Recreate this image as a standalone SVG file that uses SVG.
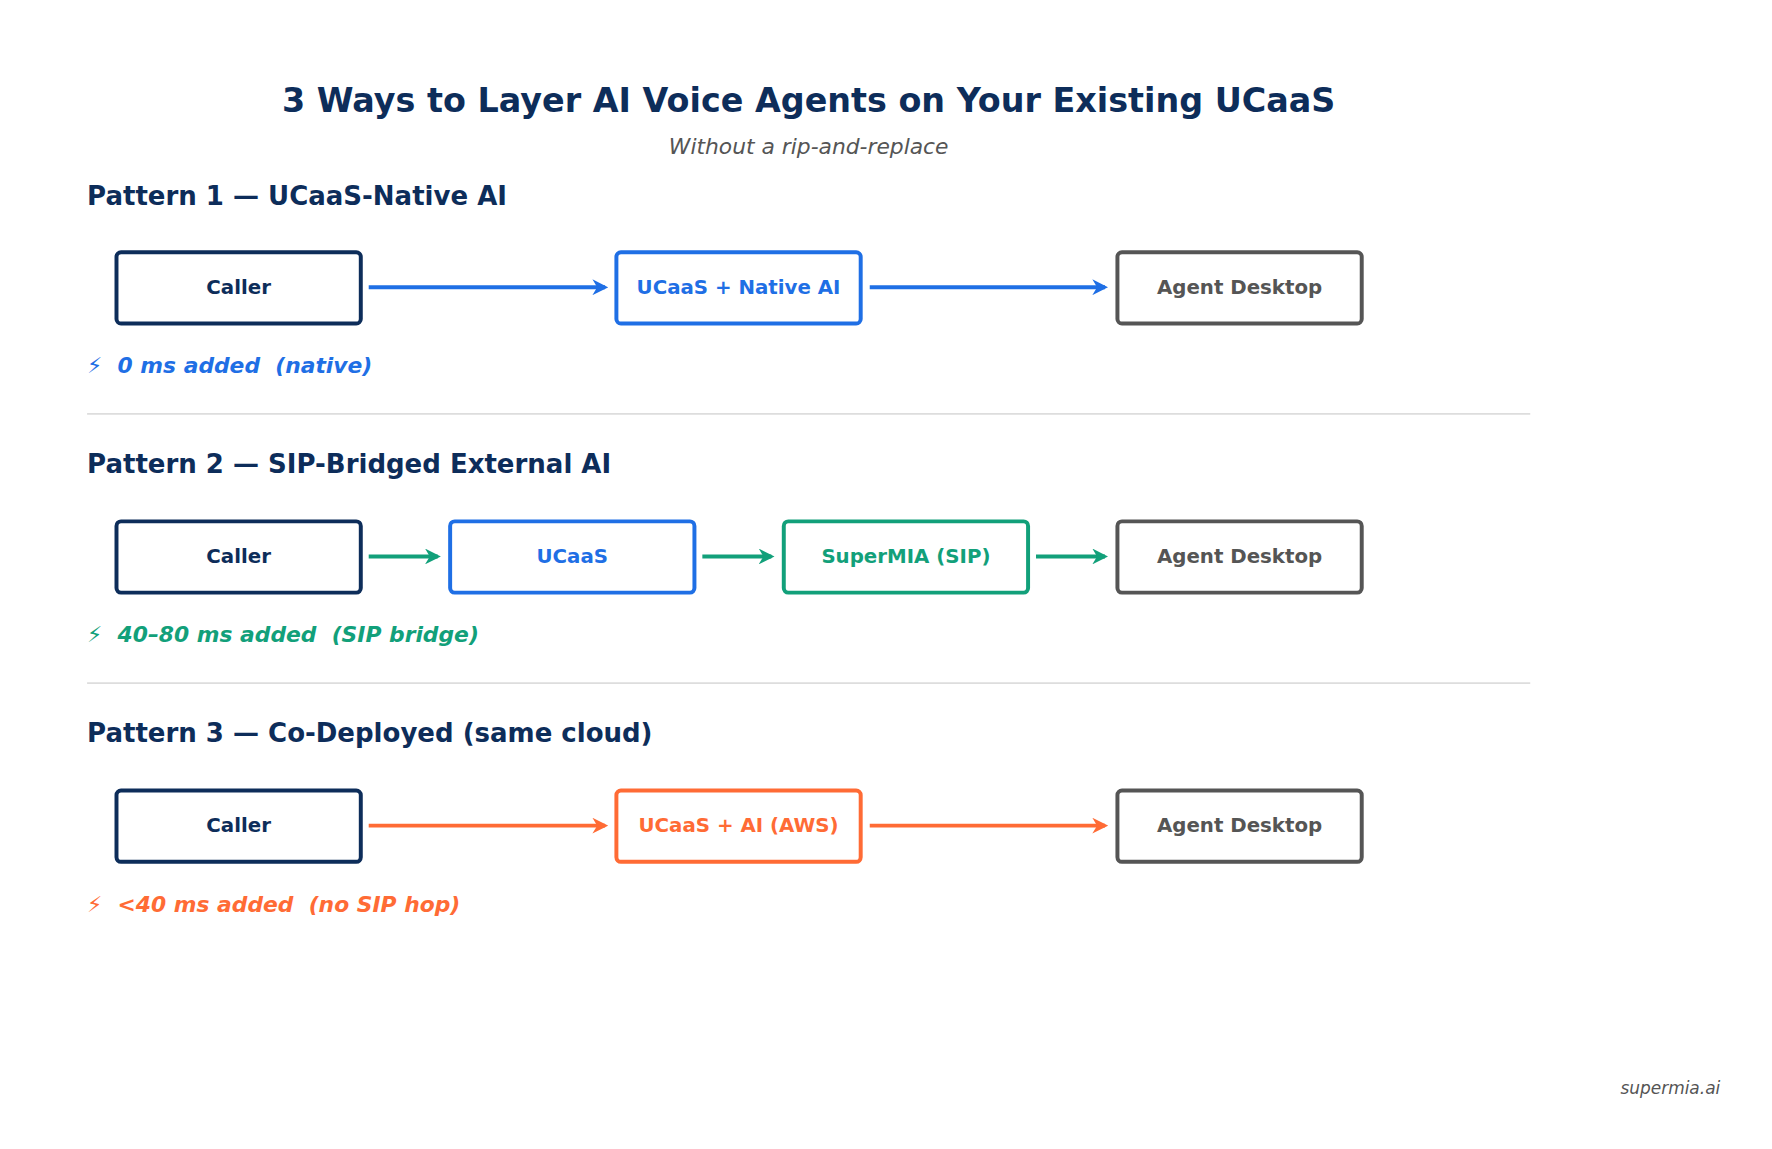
<svg xmlns="http://www.w3.org/2000/svg" width="1772" height="1149" viewBox="0 0 1772 1149">
<style>
text{font-family:"DejaVu Sans","Noto Sans",sans-serif}
.t{font-size:29.5px;font-weight:bold;fill:#0d2d5a;text-anchor:middle}
.s{font-size:19.3px;font-style:italic;fill:#555;text-anchor:middle}
.h{font-size:23px;font-weight:bold;fill:#0d2d5a}
.b{fill:#fff;stroke-width:3.5}
.l{font-size:17.5px;font-weight:bold;text-anchor:middle}
.lat{font-size:19.3px;font-weight:bold;font-style:italic}
.sep{stroke:#ddd;stroke-width:1.5}
.a{stroke-width:3.5;fill:none}
</style>
<defs>
<marker id="mb" viewBox="0 0 10 10" refX="8" refY="5" markerWidth="4" markerHeight="4" orient="auto"><path d="M0,0 L10,5 L0,10 L3,5 z" fill="#1f6fe5"/></marker>
<marker id="mg" viewBox="0 0 10 10" refX="8" refY="5" markerWidth="4" markerHeight="4" orient="auto"><path d="M0,0 L10,5 L0,10 L3,5 z" fill="#12a07a"/></marker>
<marker id="mo" viewBox="0 0 10 10" refX="8" refY="5" markerWidth="4" markerHeight="4" orient="auto"><path d="M0,0 L10,5 L0,10 L3,5 z" fill="#ff6b35"/></marker>
</defs>
<rect width="1772" height="1149" fill="#fff"/>
<g transform="scale(1.131)">
<text class="t" x="715" y="99">3 Ways to Layer AI Voice Agents on Your Existing UCaaS</text>
<text class="s" x="715" y="136">Without a rip-and-replace</text>
<text class="h" x="77" y="181">Pattern 1 — UCaaS-Native AI</text>
<text class="h" x="77" y="418">Pattern 2 — SIP-Bridged External AI</text>
<text class="h" x="77" y="656">Pattern 3 — Co-Deployed (same cloud)</text>
<line class="sep" x1="77" y1="366" x2="1353" y2="366"/>
<line class="sep" x1="77" y1="604" x2="1353" y2="604"/>
<g id="connectors">
<line class="a" stroke="#1f6fe5" x1="326" y1="254" x2="535" y2="254" marker-end="url(#mb)"/>
<line class="a" stroke="#1f6fe5" x1="769" y1="254" x2="977" y2="254" marker-end="url(#mb)"/>
<line class="a" stroke="#12a07a" x1="326" y1="492" x2="387" y2="492" marker-end="url(#mg)"/>
<line class="a" stroke="#12a07a" x1="621" y1="492" x2="682" y2="492" marker-end="url(#mg)"/>
<line class="a" stroke="#12a07a" x1="916" y1="492" x2="977" y2="492" marker-end="url(#mg)"/>
<line class="a" stroke="#ff6b35" x1="326" y1="730" x2="535" y2="730" marker-end="url(#mo)"/>
<line class="a" stroke="#ff6b35" x1="769" y1="730" x2="977" y2="730" marker-end="url(#mo)"/>
</g>
<g id="p1-caller"><rect class="b" stroke="#0d2d5a" x="103" y="223" width="216" height="63" rx="4"/><text class="l" fill="#0d2d5a" x="211" y="260">Caller</text></g>
<g id="p1-ucaas"><rect class="b" stroke="#1f6fe5" x="545" y="223" width="216" height="63" rx="4"/><text class="l" fill="#1f6fe5" x="653" y="260">UCaaS + Native AI</text></g>
<g id="p1-agent"><rect class="b" stroke="#555" x="988" y="223" width="216" height="63" rx="4"/><text class="l" fill="#555" x="1096" y="260">Agent Desktop</text></g>
<g id="p2-caller"><rect class="b" stroke="#0d2d5a" x="103" y="461" width="216" height="63" rx="4"/><text class="l" fill="#0d2d5a" x="211" y="498">Caller</text></g>
<g id="p2-ucaas"><rect class="b" stroke="#1f6fe5" x="398" y="461" width="216" height="63" rx="4"/><text class="l" fill="#1f6fe5" x="506" y="498">UCaaS</text></g>
<g id="p2-supermia"><rect class="b" stroke="#12a07a" x="693" y="461" width="216" height="63" rx="4"/><text class="l" fill="#12a07a" x="801" y="498">SuperMIA (SIP)</text></g>
<g id="p2-agent"><rect class="b" stroke="#555" x="988" y="461" width="216" height="63" rx="4"/><text class="l" fill="#555" x="1096" y="498">Agent Desktop</text></g>
<g id="p3-caller"><rect class="b" stroke="#0d2d5a" x="103" y="699" width="216" height="63" rx="4"/><text class="l" fill="#0d2d5a" x="211" y="736">Caller</text></g>
<g id="p3-ucaas"><rect class="b" stroke="#ff6b35" x="545" y="699" width="216" height="63" rx="4"/><text class="l" fill="#ff6b35" x="653" y="736">UCaaS + AI (AWS)</text></g>
<g id="p3-agent"><rect class="b" stroke="#555" x="988" y="699" width="216" height="63" rx="4"/><text class="l" fill="#555" x="1096" y="736">Agent Desktop</text></g>
<text class="lat" fill="#1f6fe5" x="77" y="330" xml:space="preserve">⚡  0 ms added  (native)</text>
<text class="lat" fill="#12a07a" x="77" y="568" xml:space="preserve">⚡  40–80 ms added  (SIP bridge)</text>
<text class="lat" fill="#ff6b35" x="77" y="806" xml:space="preserve">⚡  &lt;40 ms added  (no SIP hop)</text>
<text x="1521" y="967" font-size="15" font-style="italic" fill="#555" text-anchor="end">supermia.ai</text>
</g>
</svg>
